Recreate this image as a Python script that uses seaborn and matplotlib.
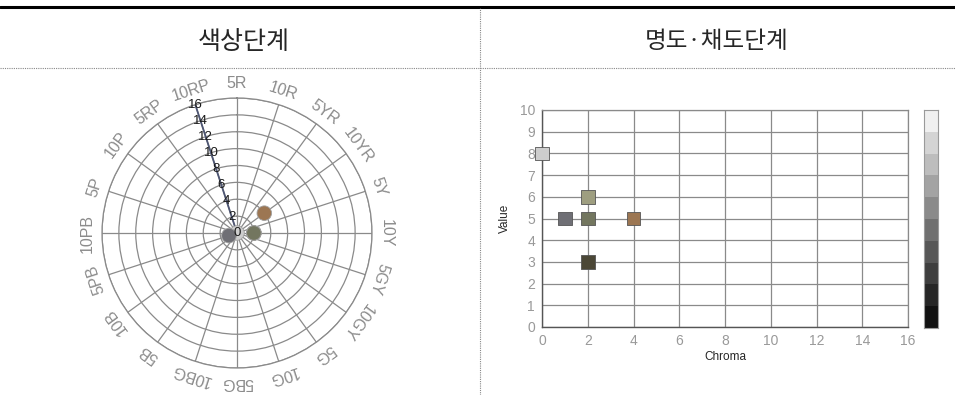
import numpy as np
import matplotlib
matplotlib.use("Agg")
import matplotlib.pyplot as plt
from matplotlib.lines import Line2D
from matplotlib.colors import ListedColormap
import seaborn as sns

# hue circle labels, clockwise from the top
hue_names = ['5R', '10R', '5YR', '10YR', '5Y', '10Y', '5GY', '10GY', '5G', '10G',
             '5BG', '10BG', '5B', '10B', '5PB', '10PB', '5P', '10P', '5RP', '10RP']
chroma_ticks = [0, 2, 4, 6, 8, 10, 12, 14, 16]
value_ticks = [0, 1, 2, 3, 4, 5, 6, 7, 8, 9, 10]

# colour samples
sample_names = ['N 8/0', '5PB 5/1', '10Y 3/2', '10Y 6/2', '10YR 5/4', '10Y 5/2']
sample_hue = ['5R', '5PB', '10Y', '10Y', '10YR', '10Y']
sample_chroma = [0, 1, 2, 2, 4, 2]
sample_value = [8, 5, 3, 6, 5, 5]
sample_color = ['#cdcdcd', '#6f6f75', '#4b4736', '#9e9e80', '#9c7652', '#73765f']

# value scale on the right
gray_steps = ['#111111', '#262626', '#3e3e3e', '#575757', '#707070',
              '#8a8a8a', '#a3a3a3', '#bdbdbd', '#d4d4d4', '#f0f0f0']

sns.set_style('white')
plt.rcParams['font.family'] = ['Noto Sans CJK KR', 'DejaVu Sans']

fig = plt.figure(figsize=(9.55, 3.95), dpi=100)

# table frame
fig.add_artist(Line2D([0, 1], [1 - 7 / 395, 1 - 7 / 395], transform=fig.transFigure,
                      color='black', lw=2.2))
fig.add_artist(Line2D([0, 1], [1 - 68 / 395, 1 - 68 / 395], transform=fig.transFigure,
                      color='#888888', lw=0.8, ls=(0, (1, 1))))
fig.add_artist(Line2D([480 / 955, 480 / 955], [0, 1 - 8 / 395], transform=fig.transFigure,
                      color='#888888', lw=0.8, ls=(0, (1, 1))))
fig.text(244 / 955, 1 - 42 / 395, '색상단계', ha='center', va='center', fontsize=18)
fig.text(717 / 955, 1 - 42 / 395, '명도·채도단계', ha='center', va='center', fontsize=17)

# ---- polar hue chart
hue_angle = {h: np.deg2rad(i * 18) for i, h in enumerate(hue_names)}
ax = fig.add_axes([102 / 955, 1 - 368 / 395, 270 / 955, 270 / 395], projection='polar')
ax.set_theta_zero_location('N')
ax.set_theta_direction(-1)
ax.set_ylim(0, 16)
ax.set_thetagrids(np.arange(0, 360, 18), labels=[])
ax.set_rgrids(chroma_ticks, labels=[])
ax.grid(color='#8a8a8a', lw=0.9)
ax.spines['polar'].set_color('#8a8a8a')
ax.spines['polar'].set_linewidth(0.9)

for i, h in enumerate(hue_names):
    ax.text(hue_angle[h], 17.7, h, ha='center', va='center', rotation=-i * 18,
            rotation_mode='anchor', fontsize=11.5, color='#8c8c8c', family='Liberation Sans')

axis_angle = hue_angle['10RP']
ax.plot([axis_angle, axis_angle], [0, 16], color='#4e5673', lw=1.3)

theta = [hue_angle[h] for h in sample_hue]
sns.scatterplot(x=theta, y=sample_chroma, hue=sample_names, palette=sample_color,
                s=110, edgecolor='#a0a0a0', linewidth=0.6, legend=False, ax=ax, zorder=3)
ax.set_xlabel('')
ax.set_ylabel('')

for r in chroma_ticks:
    ax.text(axis_angle, r, str(r), ha='center', va='center', fontsize=9.5,
            color='#1a1a1a', family='Liberation Sans', zorder=4)

# ---- value / chroma chart
ax2 = fig.add_axes([542 / 955, 1 - 327 / 395, 366 / 955, 217 / 395])
sns.scatterplot(x=sample_chroma, y=sample_value, hue=sample_names, palette=sample_color,
                marker='s', s=95, edgecolor='#555555', linewidth=0.6, legend=False,
                ax=ax2, zorder=3, clip_on=False)
ax2.set_xlim(0, 16)
ax2.set_ylim(0, 10)
ax2.set_xticks(range(0, 17, 2))
ax2.set_yticks(value_ticks)
ax2.grid(True, color='#8a8a8a', lw=0.9)
for s in ['top', 'right']:
    ax2.spines[s].set_color('#8a8a8a')
    ax2.spines[s].set_linewidth(0.9)
for s in ['left', 'bottom']:
    ax2.spines[s].set_color('#555555')
    ax2.spines[s].set_linewidth(1.0)
ax2.tick_params(length=3, width=0.8, color='#555555', labelcolor='#999999',
                labelsize=10, pad=2)
for lab in ax2.get_xticklabels() + ax2.get_yticklabels():
    lab.set_family('Liberation Sans')
ax2.set_xlabel('Chroma', fontsize=8.5, family='Liberation Sans', labelpad=2)
ax2.set_ylabel('Value', fontsize=8.5, family='Liberation Sans', labelpad=6)

# gray value scale
ax3 = fig.add_axes([924 / 955, 1 - 328 / 395, 14 / 955, 218 / 395])
ax3.imshow(np.arange(len(gray_steps)).reshape(-1, 1), cmap=ListedColormap(gray_steps),
           origin='lower', aspect='auto')
ax3.set_xticks([])
ax3.set_yticks([])
for s in ax3.spines.values():
    s.set_color('#9a9a9a')

fig.savefig('out.png', dpi=100)
